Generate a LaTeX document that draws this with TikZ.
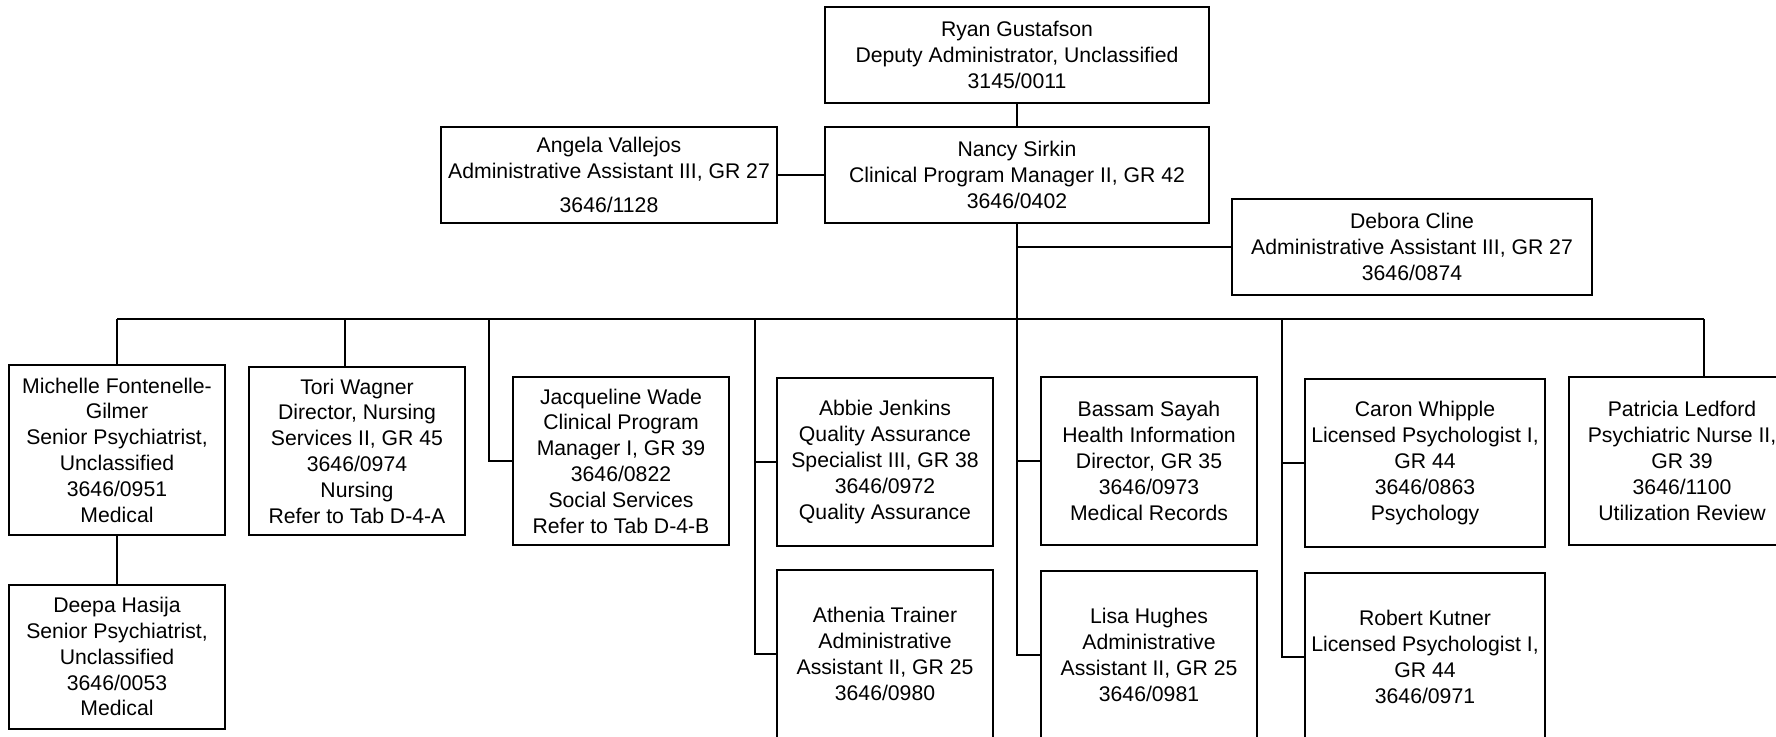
\documentclass[tikz,border=0pt]{standalone}
\usepackage{fontspec}
\setmainfont{Liberation Sans}
\usetikzlibrary{positioning}

\begin{document}
\begin{tikzpicture}[x=0.5pt, y=-0.5pt,
    box/.style={draw=black, fill=white, text=black, align=center, line width=0.9pt,
      inner sep=0pt, font=\fontsize{10.6}{12.9}\selectfont},
    head/.style={box, minimum width=192pt, minimum height=48pt},
    unit/.style={box, minimum width=108pt, minimum height=84pt},
    link/.style={draw=black, line width=0.9pt}]

    \useasboundingbox (0,0) rectangle (1776,737);

    %creates the two top boxes
    \node (ryan) [head] at (1017,55) {Ryan Gustafson\\Deputy Administrator, Unclassified\\3145/0011};%draws Ryan
    \node (nancy) [head] at (1017,175) {Nancy Sirkin\\Clinical Program Manager II, GR 42\\3646/0402};%draws Nancy
    \node (angela) [box, minimum width=168pt, minimum height=48pt] at (609,175) {Angela Vallejos\\Administrative Assistant III, GR 27\\[4pt]3646/1128};%draws Angela
    \node (debora) [box, minimum width=180pt, minimum height=48pt] at (1412,247) {Debora Cline\\Administrative Assistant III, GR 27\\3646/0874};%draws Debora

    %creates the row of units
    \node (michelle) [unit, minimum height=85pt] at (117,450) {Michelle Fontenelle-\\Gilmer\\Senior Psychiatrist,\\Unclassified\\3646/0951\\Medical};%draws Michelle
    \node (deepa) [unit, minimum height=72pt, below=24pt of michelle] {Deepa Hasija\\Senior Psychiatrist,\\Unclassified\\3646/0053\\Medical};%draws Deepa
    \node (tori) [unit] at (357,451) {Tori Wagner\\Director, Nursing\\Services II, GR 45\\3646/0974\\Nursing\\Refer to Tab D-4-A};%draws Tori
    \node (jacqueline) [unit] at (621,461) {Jacqueline Wade\\Clinical Program\\Manager I, GR 39\\3646/0822\\Social Services\\Refer to Tab D-4-B};%draws Jacqueline
    \node (abbie) [unit] at (885,462) {Abbie Jenkins\\Quality Assurance\\Specialist III, GR 38\\3646/0972\\Quality Assurance};%draws Abbie
    \node (athenia) [unit, below=11pt of abbie] {Athenia Trainer\\Administrative\\Assistant II, GR 25\\3646/0980};%draws Athenia
    \node (bassam) [unit] at (1149,461) {Bassam Sayah\\Health Information\\Director, GR 35\\3646/0973\\Medical Records};%draws Bassam
    \node (lisa) [unit, below=12pt of bassam] {Lisa Hughes\\Administrative\\Assistant II, GR 25\\3646/0981};%draws Lisa
    \node (caron) [unit, minimum width=120pt] at (1425,463) {Caron Whipple\\Licensed Psychologist I,\\GR 44\\3646/0863\\Psychology};%draws Caron
    \node (robert) [unit, minimum width=120pt, below=12pt of caron] {Robert Kutner\\Licensed Psychologist I,\\GR 44\\3646/0971};%draws Robert
    \node (patricia) [unit, minimum width=113pt] at (1682,461) {Patricia Ledford\\Psychiatric Nurse II,\\GR 39\\3646/1100\\Utilization Review};%draws Patricia

    %points where the drops leave the bus
    \coordinate (busL) at (117,319);
    \coordinate (busR) at (1704,319);
    \coordinate (toriDrop) at (345,319);
    \coordinate (jacDrop) at (489,319);
    \coordinate (qaDrop) at (755,319);
    \coordinate (psyDrop) at (1282,319);

    %draws the lines at the top
    \draw [link] (ryan) -- (nancy);%Ryan to Nancy
    \draw [link] (angela) -- (nancy);%Angela to Nancy
    \draw [link] (nancy.south) |- (debora);%Nancy to Debora
    \draw [link] (nancy.south) |- (bassam);%trunk to Bassam
    \draw [link] (nancy.south) |- (lisa);%trunk to Lisa

    %draws the bus and its drops
    \draw [link] (busL) -- (busR);%the bus
    \draw [link] (busL) -- (michelle);
    \draw [link] (michelle) -- (deepa);
    \draw [link] (toriDrop) -- (toriDrop |- tori.north);
    \draw [link] (jacDrop) |- (jacqueline);
    \draw [link] (qaDrop) |- (abbie);
    \draw [link] (qaDrop) |- (athenia);
    \draw [link] (psyDrop) |- (caron);
    \draw [link] (psyDrop) |- (robert);
    \draw [link] (busR) -- (busR |- patricia.north);
  \end{tikzpicture}
\end{document}
